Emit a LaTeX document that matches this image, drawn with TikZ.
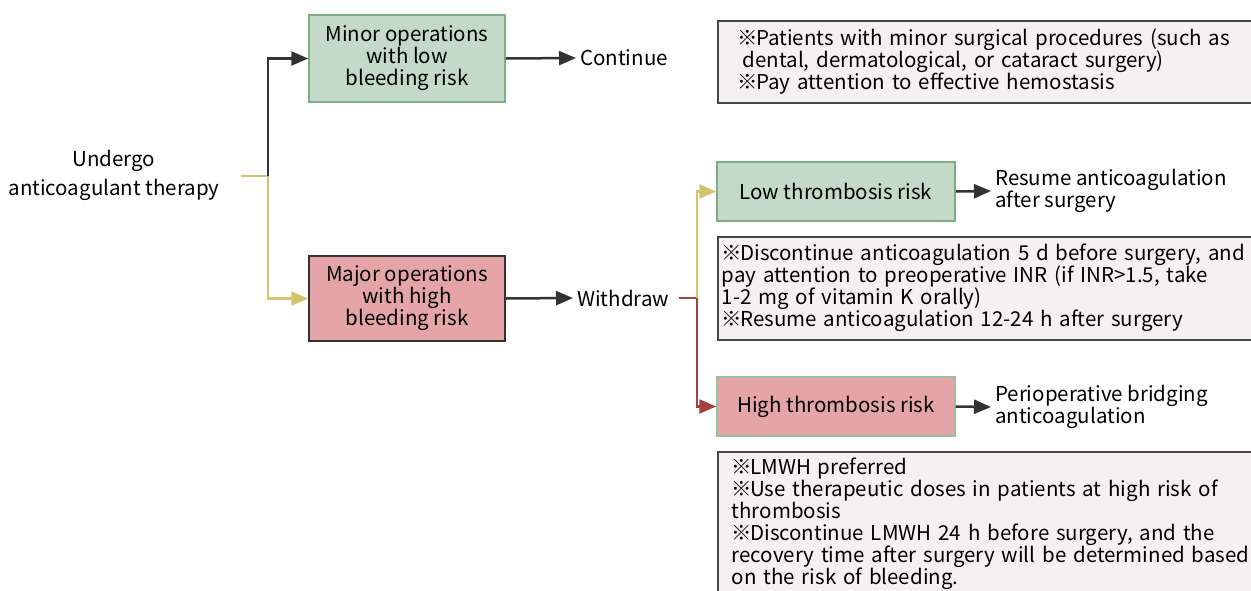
\documentclass[tikz,border=0pt]{standalone}
\usepackage{fontspec}
\setmainfont{Noto Sans CJK SC}
\usepackage{xcolor}
\definecolor{flgreen}{RGB}{197,217,200}
\definecolor{flgreenline}{RGB}{125,174,133}
\definecolor{flpink}{RGB}{229,165,168}
\definecolor{flnote}{RGB}{245,241,243}
\definecolor{fldark}{RGB}{51,51,51}
\definecolor{flyellow}{RGB}{212,196,110}
\definecolor{flred}{RGB}{168,64,62}
\usepackage{tikz}
\usetikzlibrary{arrows.meta, positioning}

\newcommand{\refmark}{※\kern-2pt}

\tikzset{
  txt/.style={font=\fontsize{20.5}{22}\selectfont},
  box/.style={txt, draw, line width=1.5pt, align=center, inner sep=0pt},
  greenbox/.style={box, fill=flgreen, draw=flgreenline},
  pinkbox/.style={box, fill=flpink, draw=fldark},
  notebox/.style={txt, draw=fldark!90, fill=flnote, line width=1.5pt, anchor=north west, align=left, inner ysep=0pt, text width=600pt},
  plain/.style={txt, align=left, inner sep=4pt, anchor=west},
  link/.style={line width=2.5pt, -{Triangle[length=17pt,width=14pt]}},
}

\begin{document}
\begin{tikzpicture}[x=1pt, y=-1pt]
  \useasboundingbox (0,0) rectangle (1251,590);

  % --- Start ---
  \node[txt, font=\fontsize{20.5}{29}\selectfont, align=center, inner sep=4pt] (undergo) at (114,175) {Undergo\\anticoagulant therapy};
  \coordinate (jn) at (268,176);

  % --- Bleeding risk ---
  \node[greenbox, minimum width=196pt, minimum height=87pt] (minor) at (407,58.5) {Minor operations\\with low\\bleeding risk};
  \node[pinkbox, minimum width=196pt, minimum height=85pt] (major) at (407,298.5) {Major operations\\with high\\bleeding risk};
  \node[plain] (cont) at (576,58) {Continue};
  \node[plain] (wd) at (573,298) {Withdraw};
  \coordinate (wdj) at (697,298);

  % --- Thrombosis risk ---
  \node[greenbox, minimum width=238pt, minimum height=59pt] (low) at (836,191.5) {Low thrombosis risk};
  \node[pinkbox, draw=flgreenline!80, minimum width=238pt, minimum height=59pt] (high) at (836,406.5) {High thrombosis risk};
  \node[plain] (resume) at (991,191) {Resume anticoagulation\\after surgery};
  \node[plain] (bridge) at (991,407) {Perioperative bridging\\anticoagulation};

  % --- Notes (right edge runs off the page) ---
  \node[notebox, minimum height=82pt, inner xsep=20pt] (note1) at (717,20)
    {\refmark Patients with minor surgical procedures (such as\\
     \hspace*{5pt}dental, dermatological, or cataract surgery)\\
     \refmark Pay attention to effective hemostasis};
  \node[notebox, minimum height=103pt, inner xsep=4pt] (note2) at (717,236)
    {\refmark Discontinue anticoagulation 5 d before surgery, and\\
     pay attention to preoperative INR (if INR>1.5, take\\
     1-2 mg of vitamin K orally)\\
     \refmark Resume anticoagulation 12-24 h after surgery};
  \node[notebox, minimum height=145pt, inner xsep=14pt] (note3) at (717,451)
    {\refmark LMWH preferred\\
     \refmark Use therapeutic doses in patients at high risk of\\
     thrombosis\\
     \refmark Discontinue LMWH 24 h before surgery, and the\\
     recovery time after surgery will be determined based\\
     on the risk of bleeding.};

  % --- Connectors ---
  \draw[line width=2.2pt, flyellow, shorten <=17pt] (undergo.east |- jn) -- (jn);
  \draw[link, fldark] (jn) |- (minor.west);
  \draw[link, flyellow] (jn) |- (major.west);
  \draw[link, fldark] (minor.east) -- (cont.west);
  \draw[link, fldark] (major.east) -- (wd.west);
  \draw[line width=2.5pt, flred, shorten <=6pt] (wd.east) -- (wdj);
  \draw[link, flyellow] (wdj) |- (low.west);
  \draw[link, flred] (wdj) |- (high.west);
  \draw[link, fldark] (low.east) -- (resume.west);
  \draw[link, fldark] (high.east) -- (bridge.west);
\end{tikzpicture}
\end{document}
